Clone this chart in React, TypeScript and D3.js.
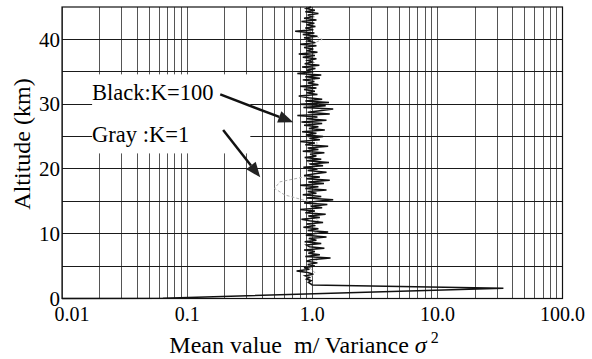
import { useEffect, useRef } from "react"
import * as d3 from "d3"

// axis ticks
const xTicks = [0.01, 0.1, 1, 10, 100]
const xTickLabels = ["0.01", "0.1", "1.0", "10.0", "100.0"]
const yTicks = [0, 10, 20, 30, 40]
const yGridLines = [5, 10, 15, 20, 25, 30, 35, 40]

// K=100 (black): lower part incl. the surface spike, [altitude km, value]
const blackBaseAlt = [0, 0.05, 1.6, 2.1]
const blackBaseValue = [0.01, 0.064, 33.7, 1.0]

// K=100 (black): noisy part, one value every 0.25 km from 2.25 km up to 45 km
const blackStartAlt = 2.25
const blackStep = 0.25
const blackValues = [
  0.97, 0.93, 0.98, 0.9,
  0.95, 0.88, 1.02, 0.92,
  0.75, 0.95, 0.86, 1.05,
  0.92, 1.1, 0.9, 0.98,
  1.4, 0.88, 1.15, 0.93,
  1.05, 0.86, 1.25, 0.95,
  0.9, 1.18, 0.87, 1.08,
  0.94, 1.3, 0.89, 1.02,
  1.34, 0.92, 1.12, 0.85,
  1.06, 0.9, 1.22, 0.95,
  0.82, 1.15, 0.93, 1.28,
  0.88, 1.05, 0.8, 1.2,
  0.97, 1.32, 0.86, 1.1,
  1.47, 0.9, 1.18, 0.84,
  1.08, 0.92, 1.3, 0.88,
  1.12, 0.8, 1.24, 0.93,
  1.38, 0.9, 1.15, 0.86,
  1.05, 1.3, 0.92, 1.1,
  0.85, 1.22, 0.95, 1.36,
  0.9, 1.18, 0.87, 1.08,
  0.96, 1.25, 0.84, 1.12,
  0.92, 1.34, 0.88, 1.05,
  0.8, 1.15, 0.95, 1.22,
  0.89, 1.08, 0.83, 1.26,
  0.94, 1.12, 0.86, 1.2,
  0.82, 1.3, 0.9, 1.1,
  0.76, 1.38, 0.92, 1.15,
  1.47, 0.85, 1.28, 0.8,
  1.36, 0.88, 1.2, 0.93,
  0.78, 1.1, 0.9, 1.05,
  0.86, 1.08, 0.8, 1.12,
  0.92, 1.04, 0.84, 1.15,
  0.88, 1.18, 0.76, 1.02,
  0.9, 1.06, 0.83, 1.14,
  0.87, 1.0, 0.92, 1.08,
  0.84, 1.05, 0.78, 1.1,
  0.9, 1.02, 0.86, 1.08,
  0.8, 1.06, 0.92, 1.0,
  0.86, 1.1, 0.84, 1.04,
  0.73, 1.02, 0.88, 1.06,
  0.9, 1.04, 0.82, 1.08,
  0.86, 1.0, 0.92, 1.12,
  0.88, 1.05, 0.9, 0.98,
]

// K=1 (gray): one value per km from 2 km up to 45 km
const grayStartAlt = 2
const grayStep = 1
const grayValues = [
  1.0, 0.95, 1.05, 0.92, 1.1, 0.96, 1.02, 0.9, 1.08, 0.95,
  1.12, 0.9, 1.0, 0.93, 0.6, 0.5, 0.55, 0.98, 1.1, 0.92,
  1.05, 0.95, 1.1, 0.9, 1.02, 0.94, 1.08, 0.96, 1.12, 0.92,
  1.0, 0.95, 1.06, 0.9, 1.02, 0.97, 1.04, 0.93, 1.2, 0.95,
  1.02, 0.96, 1.05, 0.98,
]

// annotations in data space: [value, altitude]
const labelBlack = { text: "Black:K=100", at: [0.0174, 30.6], from: [0.184, 31.5], to: [0.705, 27.2] }
const labelGray = { text: "Gray :K=1", at: [0.0174, 24.1], from: [0.194, 26.0], to: [0.384, 18.7] }
const labelBox = { x0: 0.0174, x1: 0.32, y0: 22.4, y1: 34.6 }

const FONT = "'Liberation Serif', 'Times New Roman', serif"

export default function App() {
  const svgRef = useRef<SVGSVGElement>(null)

  useEffect(() => {
    if (!svgRef.current) return
    document.body.style.margin = "0"

    const svg = d3.select(svgRef.current)
    svg.selectAll("*").remove()

    const x = d3.scaleLog().domain([0.01, 100]).range([62, 562.5])
    const y = d3.scaleLinear().domain([0, 45]).range([298.5, 7])

    // grid
    const grid = svg.append("g").attr("shape-rendering", "crispEdges")
    grid
      .selectAll("line.v")
      .data(x.ticks())
      .enter()
      .append("line")
      .attr("x1", (d) => x(d))
      .attr("x2", (d) => x(d))
      .attr("y1", y(0))
      .attr("y2", y(45))
      .attr("stroke", "#555")
      .attr("stroke-width", 1)
    grid
      .selectAll("line.h")
      .data(yGridLines)
      .enter()
      .append("line")
      .attr("x1", x(0.01))
      .attr("x2", x(100))
      .attr("y1", (d) => y(d))
      .attr("y2", (d) => y(d))
      .attr("stroke", "#1a1a1a")
      .attr("stroke-width", 1)

    // white area behind the annotation
    svg
      .append("rect")
      .attr("x", x(labelBox.x0))
      .attr("y", y(labelBox.y1))
      .attr("width", x(labelBox.x1) - x(labelBox.x0))
      .attr("height", y(labelBox.y0) - y(labelBox.y1))
      .attr("fill", "#fff")

    const line = d3
      .line<[number, number]>()
      .x((d) => x(d[1]))
      .y((d) => y(d[0]))

    // gray series
    const grayPts: [number, number][] = grayValues.map((v, i) => [grayStartAlt + i * grayStep, v])
    svg
      .append("path")
      .attr("d", line(grayPts))
      .attr("fill", "none")
      .attr("stroke", "#b0b0b0")
      .attr("stroke-width", 1)
      .attr("stroke-dasharray", "3,2")

    // black series
    const blackPts: [number, number][] = blackBaseAlt.map((a, i) => [a, blackBaseValue[i]])
    blackValues.forEach((v, i) => blackPts.push([blackStartAlt + i * blackStep, v]))
    svg
      .append("path")
      .attr("d", line(blackPts))
      .attr("fill", "none")
      .attr("stroke", "#111")
      .attr("stroke-width", 1.5)
      .attr("stroke-linejoin", "miter")

    // frame
    svg
      .append("rect")
      .attr("x", x(0.01))
      .attr("y", y(45))
      .attr("width", x(100) - x(0.01))
      .attr("height", y(0) - y(45))
      .attr("fill", "none")
      .attr("stroke", "#111")
      .attr("stroke-width", 1.2)

    const txt = (sel: d3.Selection<SVGTextElement, any, any, any>, size: number) =>
      sel.style("font-family", FONT).style("font-size", `${size}px`).attr("fill", "#000")

    // tick labels
    svg
      .selectAll("text.xt")
      .data(xTicks)
      .enter()
      .append("text")
      .attr("x", (d) => x(d))
      .attr("dx", (_, i) => (i === 0 ? 10 : 0))
      .attr("y", 321)
      .attr("text-anchor", "middle")
      .call((s) => txt(s as any, 20))
      .text((_, i) => xTickLabels[i])

    svg
      .selectAll("text.yt")
      .data(yTicks)
      .enter()
      .append("text")
      .attr("x", 60)
      .attr("y", (d) => y(d))
      .attr("dy", "0.34em")
      .attr("text-anchor", "end")
      .call((s) => txt(s as any, 21))
      .text((d) => d)

    // axis titles
    const xt = svg.append("text").attr("x", 304).attr("y", 353).attr("text-anchor", "middle")
    txt(xt, 24)
    xt.append("tspan").text("Mean value\u00a0\u00a0m/ Variance ")
    xt.append("tspan").style("font-style", "italic").text("\u03c3")
    xt.append("tspan").attr("dx", 4).attr("dy", -10).style("font-size", "16px").text("2")

    const yt = svg
      .append("text")
      .attr("transform", "translate(30,144) rotate(-90)")
      .attr("text-anchor", "middle")
      .text("Altitude (km)")
    txt(yt, 24)

    // annotations
    ;[labelBlack, labelGray].forEach((lab) => {
      const t = svg
        .append("text")
        .attr("x", x(lab.at[0]))
        .attr("y", y(lab.at[1]))
        .text(lab.text)
      txt(t, 22.5)

      const x1 = x(lab.from[0])
      const y1 = y(lab.from[1])
      const x2 = x(lab.to[0])
      const y2 = y(lab.to[1])
      const ang = Math.atan2(y2 - y1, x2 - x1)
      const headLen = 15
      const headW = 6
      const bx = x2 - headLen * Math.cos(ang)
      const by = y2 - headLen * Math.sin(ang)
      svg
        .append("line")
        .attr("x1", x1)
        .attr("y1", y1)
        .attr("x2", bx)
        .attr("y2", by)
        .attr("stroke", "#111")
        .attr("stroke-width", 2.5)
      svg
        .append("polygon")
        .attr(
          "points",
          [
            [x2, y2],
            [bx - headW * Math.sin(ang), by + headW * Math.cos(ang)],
            [bx + headW * Math.sin(ang), by - headW * Math.cos(ang)],
          ]
            .map((p) => p.join(","))
            .join(" ")
        )
        .attr("fill", "#222")
    })
  }, [])

  return <svg ref={svgRef} width={592} height={359} style={{ display: "block", background: "#fff" }} />
}
